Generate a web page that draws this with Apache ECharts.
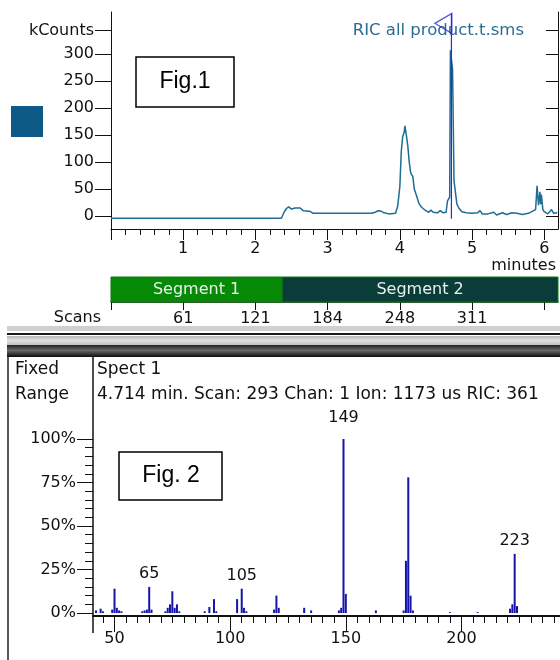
<!DOCTYPE html>
<html>
<head>
<meta charset="utf-8">
<title>RIC all product / Spect 1</title>
<script src="https://cdn.jsdelivr.net/npm/echarts@6.0.0/dist/echarts.min.js"></script>
<style>
  html, body { margin: 0; padding: 0; background: #fff; }
  #chart { width: 560px; height: 660px; }
</style>
</head>
<body>
<div id="chart"></div>
<script>
// Fig.1 - RIC trace, time in minutes, intensity in kCounts
const ricTimes = [0, 2.36, 2.40, 2.43, 2.46, 2.50, 2.55, 2.62, 2.66, 2.75, 2.80, 3.00, 3.30, 3.60, 3.66, 3.70,
  3.74, 3.78, 3.85, 3.94, 3.97, 4.00, 4.02, 4.04, 4.06, 4.07, 4.09, 4.11, 4.13, 4.15, 4.18, 4.20, 4.23, 4.26,
  4.29, 4.32, 4.36, 4.40, 4.43, 4.46, 4.52, 4.56, 4.60, 4.64, 4.66, 4.69, 4.70, 4.73, 4.75, 4.77, 4.79, 4.82,
  4.86, 4.92, 5.00, 5.08, 5.11, 5.14, 5.22, 5.30, 5.34, 5.42, 5.48, 5.55, 5.62, 5.70, 5.78, 5.84, 5.88, 5.90,
  5.92, 5.94, 5.95, 5.96, 5.98, 6.00, 6.05, 6.10, 6.13, 6.18];
const ricValues = [-4, -4, 8, 14, 17, 13, 15, 15, 10, 9, 5, 5, 5, 5, 7, 10,
  9, 6, 4, 5, 18, 55, 120, 148, 155, 167, 150, 130, 100, 80, 73, 50, 38, 25,
  18, 14, 10, 7, 11, 7, 6, 10, 6, 7, 28, 35, 307, 272, 65, 62, 22, 14,
  8, 6, 5, 6, 10, 4, 4, 7, 2, 6, 3, 6, 5, 3, 5, 9, 12, 56,
  20, 45, 22, 40, 12, 8, 4, 12, 5, 6];

const countTicks = [0, 50, 100, 150, 200, 250, 300, 344]; // 344 carries the "kCounts" unit label
const timeTicks = [0, 1, 2, 3, 4, 5, 6];
const timeLabels = [1, 2, 3, 4, 5, 6];
const cursorTime = 4.714;

// scan numbers under the segment bar
const scanTickTimes = [1, 2, 3, 4, 5];
const scanLabels = ['61', '121', '184', '248', '311'];
const segmentNames = ['Segment 1', 'Segment 2'];
const segmentStarts = [0, 2.37];
const segmentEnds = [2.37, 6.19];

// Fig.2 - mass spectrum at 4.714 min
const specMz = [42, 44, 45, 49, 50, 51, 52, 53, 62, 63, 64, 65, 66, 72, 73, 74, 75, 76, 77, 78,
  89, 91, 93, 94, 103, 105, 106, 107, 119, 120, 121, 132, 135, 147, 148, 149, 150, 163,
  175, 176, 177, 178, 179, 195, 207, 221, 222, 223, 224];
const specPct = [1.5, 2.5, 1, 2, 14, 3, 1.5, 1, 1, 1.5, 2, 15, 2, 1, 3, 5, 12.5, 3, 5, 1,
  1, 3.5, 8, 1, 8, 14, 3, 1, 2, 10, 3, 3, 1.5, 1.5, 3, 100, 11, 1.5,
  1.5, 30, 78, 10, 1.5, 0.5, 0.5, 2.5, 5, 34, 4];
const labeledMz = [65, 105, 149, 223];
const pctTicks = [0, 25, 50, 75, 100];
const mzTicks = [50, 100, 150, 200, 250];

const uiFont = '16px "DejaVu Sans"';
const headFont = '17px "DejaVu Sans"';
const ink = '#111';
const labelText = { color: ink, fontSize: 16, fontFamily: 'DejaVu Sans' };

const timeMinor = [];
for (let i = 1; i <= 30; i++) { if (i % 5) timeMinor.push(i / 5); }
const pctMinor = [];
for (let p = 5; p < 100; p += 5) { if (p % 25) pctMinor.push(p); }
const mzMinor = [];
for (let m = 45; m <= 240; m += 5) { if (m % 50) mzMinor.push(m); }

const chart = echarts.init(document.getElementById('chart'));

const option = {
  animation: false,
  backgroundColor: '#fff',
  textStyle: { fontFamily: 'DejaVu Sans' },
  grid: [
    { left: 111, right: 2, top: 12, height: 217 },
    { left: 111, right: 2, top: 277, height: 25 },
    { left: 93, right: 0, top: 439, height: 177 }
  ],
  xAxis: [
    {
      gridIndex: 0, type: 'value', min: 0, max: 6.19, position: 'bottom',
      splitLine: { show: false },
      axisLine: { onZero: false, lineStyle: { color: ink, width: 1 } },
      axisTick: { customValues: timeTicks, length: 11, lineStyle: { color: ink } },
      axisLabel: Object.assign({ customValues: timeLabels, margin: 12 }, labelText)
    },
    {
      gridIndex: 0, type: 'value', min: 0, max: 6.19, position: 'bottom', offset: 0,
      splitLine: { show: false }, axisLine: { show: false, onZero: false },
      axisTick: { customValues: timeMinor, length: 6, lineStyle: { color: ink } },
      axisLabel: { show: false }
    },
    {
      gridIndex: 1, type: 'value', min: 0, max: 6.19, position: 'bottom',
      splitLine: { show: false },
      axisLine: { onZero: false, lineStyle: { color: ink, width: 1.5 } },
      axisTick: { customValues: timeTicks, length: 8, lineStyle: { color: ink } },
      axisLabel: Object.assign({
        customValues: scanTickTimes, margin: 9,
        formatter: v => scanLabels[scanTickTimes.indexOf(v)]
      }, labelText)
    },
    {
      gridIndex: 2, type: 'value', min: 40.7, max: 242.6, position: 'bottom',
      splitLine: { show: false },
      axisLine: { onZero: false, lineStyle: { color: ink, width: 2 } },
      axisTick: { customValues: mzTicks, length: 16, lineStyle: { color: ink } },
      axisLabel: Object.assign({ customValues: mzTicks, margin: 15 }, labelText)
    },
    {
      gridIndex: 2, type: 'value', min: 40.7, max: 242.6, position: 'bottom', offset: 0,
      splitLine: { show: false }, axisLine: { show: false, onZero: false },
      axisTick: { customValues: mzMinor, length: 7, lineStyle: { color: ink } },
      axisLabel: { show: false }
    }
  ],
  yAxis: [
    {
      gridIndex: 0, type: 'value', min: -24, max: 378, position: 'left',
      splitLine: { show: false },
      axisLine: { show: true, onZero: false, lineStyle: { color: ink } },
      axisTick: { customValues: countTicks, length: 16, lineStyle: { color: ink } },
      axisLabel: Object.assign({
        customValues: countTicks, margin: 17,
        formatter: v => (v === 344 ? 'kCounts' : v)
      }, labelText)
    },
    {
      gridIndex: 0, type: 'value', min: -24, max: 378, position: 'right', offset: 0,
      splitLine: { show: false },
      axisLine: { show: true, onZero: false, lineStyle: { color: ink } },
      axisTick: { customValues: countTicks, inside: true, length: 12, lineStyle: { color: ink } },
      axisLabel: { show: false }
    },
    { gridIndex: 1, type: 'value', min: 0, max: 1, show: false },
    {
      gridIndex: 2, type: 'value', min: -1.7, max: 100, position: 'left', offset: 0,
      splitLine: { show: false }, axisLine: { show: false, onZero: false },
      axisTick: { customValues: pctTicks, length: 16, lineStyle: { color: ink } },
      axisLabel: Object.assign({ customValues: pctTicks, margin: 17, formatter: v => v + '%' }, labelText)
    },
    {
      gridIndex: 2, type: 'value', min: -1.7, max: 100, position: 'left', offset: 0,
      splitLine: { show: false }, axisLine: { show: false, onZero: false },
      axisTick: { customValues: pctMinor, length: 8, lineStyle: { color: ink } },
      axisLabel: { show: false }
    }
  ],
  series: [
    {
      name: 'RIC all product.t.sms',
      type: 'line', xAxisIndex: 0, yAxisIndex: 0,
      data: ricTimes.map((t, i) => [t, ricValues[i]]),
      showSymbol: false,
      lineStyle: { color: '#1f6c94', width: 1.5 },
      z: 3
    },
    {
      // cursor at the selected scan
      type: 'line', xAxisIndex: 0, yAxisIndex: 0,
      data: [[cursorTime, -5], [cursorTime, 375]],
      showSymbol: false,
      lineStyle: { color: '#2b2bd6', width: 1.2 },
      z: 4
    },
    {
      type: 'scatter', xAxisIndex: 0, yAxisIndex: 0,
      data: [[cursorTime, 357]],
      symbol: 'path://M17,0 L0,10 L17,20 Z',
      symbolSize: [17, 20],
      symbolOffset: [-8, 0],
      itemStyle: { color: 'rgba(0,0,0,0)', borderColor: '#2b2bd6', borderWidth: 1.2 },
      z: 4
    },
    {
      type: 'custom', xAxisIndex: 2, yAxisIndex: 2,
      data: segmentNames.map((n, i) => [segmentStarts[i], segmentEnds[i], n]),
      renderItem: function (params, api) {
        const a = api.coord([api.value(0), 0]);
        const b = api.coord([api.value(1), 0]);
        const cs = params.coordSys;
        const colors = ['#078a07', '#0a3c39'];
        return {
          type: 'rect',
          shape: { x: a[0], y: cs.y, width: b[0] - a[0], height: cs.height },
          style: { fill: colors[params.dataIndex], stroke: '#0a7a0a', lineWidth: 1 },
          textContent: { style: { text: api.value(2), fill: '#e8f2e8', font: uiFont } },
          textConfig: { position: 'inside' }
        };
      }
    },
    {
      type: 'bar', xAxisIndex: 3, yAxisIndex: 3,
      barWidth: 2,
      data: specMz.map((m, i) => {
        const item = { value: [m, specPct[i]] };
        if (labeledMz.includes(m)) {
          item.label = Object.assign({
            show: true, position: 'top', distance: m === 149 ? 13 : 5,
            formatter: String(m)
          }, labelText);
        }
        return item;
      }),
      itemStyle: { color: '#1414a8' },
      z: 3
    }
  ],
  graphic: {
    elements: [
      // legend swatch and trace name
      { type: 'rect', shape: { x: 11, y: 106, width: 32, height: 31 }, style: { fill: '#0e5a86' } },
      { type: 'text', x: 524, y: 31, style: { text: 'RIC all product.t.sms', fill: '#2a6c92', font: '16.5px "DejaVu Sans"', align: 'right', verticalAlign: 'middle' } },
      { type: 'text', x: 556, y: 266, style: { text: 'minutes', fill: ink, font: uiFont, align: 'right', verticalAlign: 'middle' } },
      { type: 'text', x: 101, y: 318, style: { text: 'Scans', fill: ink, font: uiFont, align: 'right', verticalAlign: 'middle' } },
      // figure tags
      { type: 'rect', shape: { x: 136, y: 57, width: 98, height: 50 }, style: { fill: 'rgba(0,0,0,0)', stroke: '#000', lineWidth: 1.5 } },
      { type: 'text', x: 185, y: 82, style: { text: 'Fig.1', fill: '#000', font: '23px "Liberation Sans"', align: 'center', verticalAlign: 'middle' } },
      // window separator
      { type: 'rect', shape: { x: 7, y: 326, width: 553, height: 5 }, style: { fill: '#cfcfcf' } },
      { type: 'rect', shape: { x: 7, y: 333, width: 553, height: 2 }, style: { fill: '#1a1a1a' } },
      { type: 'rect', shape: { x: 7, y: 336, width: 553, height: 9 }, style: { fill: new echarts.graphic.LinearGradient(0, 0, 0, 1, [{ offset: 0, color: '#b8b8b8' }, { offset: 0.5, color: '#e0e0e0' }, { offset: 1, color: '#c4c4c4' }]) } },
      { type: 'rect', shape: { x: 7, y: 345, width: 553, height: 12 }, style: { fill: new echarts.graphic.LinearGradient(0, 0, 0, 1, [{ offset: 0, color: '#222' }, { offset: 0.45, color: '#6a6a6a' }, { offset: 1, color: '#0c0c0c' }]) } },
      // lower panel frame
      { type: 'line', shape: { x1: 8, y1: 357, x2: 8, y2: 660 }, style: { stroke: '#222', lineWidth: 1.5 } },
      { type: 'line', shape: { x1: 93, y1: 357, x2: 93, y2: 633 }, style: { stroke: ink, lineWidth: 1.5 } },
      { type: 'text', x: 15, y: 370, style: { text: 'Fixed', fill: ink, font: headFont, verticalAlign: 'middle' } },
      { type: 'text', x: 15, y: 395, style: { text: 'Range', fill: ink, font: headFont, verticalAlign: 'middle' } },
      { type: 'text', x: 97, y: 370, style: { text: 'Spect 1', fill: ink, font: headFont, verticalAlign: 'middle' } },
      { type: 'text', x: 97, y: 395, style: { text: '4.714 min. Scan: 293 Chan: 1 Ion: 1173 us RIC: 361', fill: ink, font: headFont, verticalAlign: 'middle' } },
      { type: 'rect', shape: { x: 119, y: 452, width: 103, height: 48 }, style: { fill: 'rgba(0,0,0,0)', stroke: '#000', lineWidth: 1.5 } },
      { type: 'text', x: 171, y: 476, style: { text: 'Fig. 2', fill: '#000', font: '23px "Liberation Sans"', align: 'center', verticalAlign: 'middle' } }
    ]
  }
};

chart.setOption(option);
window.addEventListener('resize', function () {
  chart.resize();
});
</script>
</body>
</html>
